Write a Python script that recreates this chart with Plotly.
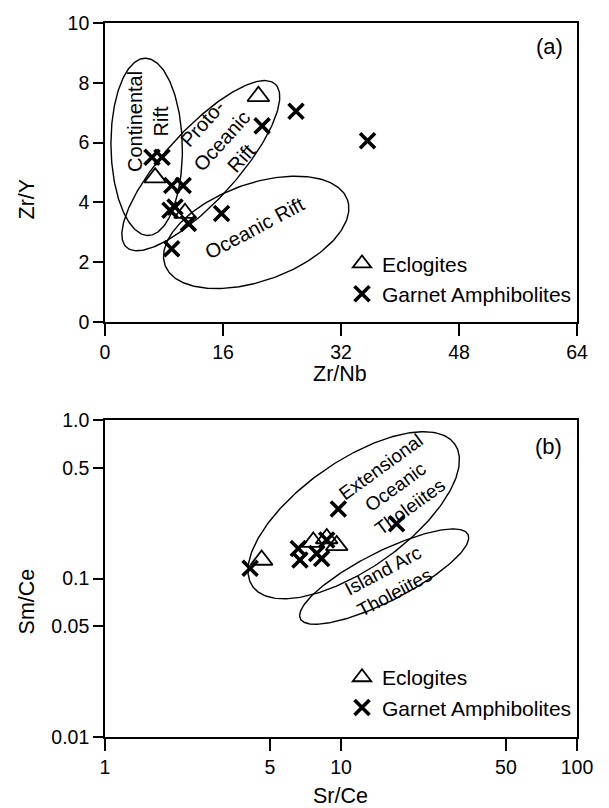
import numpy as np
import plotly.graph_objects as go

# ---------------- data: panel (a) Zr/Nb vs Zr/Y ----------------
a_ecl_zrnb = [6.8, 10.85, 20.8]
a_ecl_zry = [4.83, 3.64, 7.55]
a_amph_zrnb = [6.37, 7.73, 9.04, 10.6, 8.81, 9.49, 11.3, 15.8, 9.04, 21.3, 25.9, 35.6]
a_amph_zry = [5.51, 5.51, 4.57, 4.57, 3.74, 3.85, 3.30, 3.63, 2.45, 6.56, 7.05, 6.06]

# ---------------- data: panel (b) Sr/Ce vs Sm/Ce ----------------
b_ecl_srce = [4.61, 7.63, 8.70, 9.59]
b_ecl_smce = [0.131, 0.170, 0.179, 0.162]
b_amph_srce = [4.12, 6.59, 6.70, 7.89, 8.28, 8.70, 9.74, 17.2]
b_amph_smce = [0.116, 0.155, 0.131, 0.144, 0.134, 0.175, 0.275, 0.222]

# tick labels
a_xticks = [0, 16, 32, 48, 64]
a_yticks = [0, 2, 4, 6, 8, 10]
b_xticks = [1, 5, 10, 50, 100]
b_xticktext = ["1", "5", "10", "50", "100"]
b_yticks = [0.01, 0.05, 0.1, 0.5, 1.0]
b_yticktext = ["0.01", "0.05", "0.1", "0.5", "1.0"]

# discrimination fields: name, center (data), semi-axes (px), screen angle (deg)
a_fields = [
    ("Continental Rift", 5.65, 5.86, 89.5, 35.7, 91),
    ("Proto-Oceanic Rift", 12.99, 5.23, 111, 36, 48),
    ("Oceanic Rift", 20.5, 3.0, 97, 49, 20),
]
b_fields = [
    ("Extensional Oceanic Tholeiites", 11.32, 0.251, 124, 54, 35.5),
    ("Island Arc Tholeiites", 15.24, 0.1029, 94, 25, 27),
]

FONT = "Liberation Sans, Arial, Helvetica, sans-serif"
W, H = 609, 808
ML, MR, MT, MB = 105, 32, 16, 71
PW = W - ML - MR
PH = H - MT - MB
A_DOM = [0.5811, 1.0]
B_DOM = [0.0, 0.4438]

# pixel scale factors
a_sx = PW / 64.0
a_sy = PH * (A_DOM[1] - A_DOM[0]) / 10.0
b_sx = PW / 2.0
b_sy = PH * (B_DOM[1] - B_DOM[0]) / 2.0


def ellipse(cx, cy, a, b, ang, sx, sy, log=False):
    t = np.linspace(0, 2 * np.pi, 241)
    th = np.radians(ang)
    dx = a * np.cos(t) * np.cos(th) - b * np.sin(t) * np.sin(th)
    dy = a * np.cos(t) * np.sin(th) + b * np.sin(t) * np.cos(th)
    if log:
        return 10 ** (np.log10(cx) + dx / sx), 10 ** (np.log10(cy) + dy / sy)
    return cx + dx / sx, cy + dy / sy


fig = go.Figure()

for name, cx, cy, a, b, ang in a_fields:
    ex, ey = ellipse(cx, cy, a, b, ang, a_sx, a_sy)
    fig.add_trace(go.Scatter(x=ex, y=ey, mode="lines", line=dict(color="black", width=1.4),
                             showlegend=False, hoverinfo="skip", xaxis="x", yaxis="y"))
for name, cx, cy, a, b, ang in b_fields:
    ex, ey = ellipse(cx, cy, a, b, ang, b_sx, b_sy, log=True)
    fig.add_trace(go.Scatter(x=ex, y=ey, mode="lines", line=dict(color="black", width=1.4),
                             showlegend=False, hoverinfo="skip", xaxis="x2", yaxis="y2"))

tri = dict(symbol="triangle-up-open", size=19, color="black", line=dict(width=1.8, color="black"))
crs = dict(symbol="x-thin", size=15, color="black", line=dict(width=3.6, color="black"))

fig.add_trace(go.Scatter(x=a_ecl_zrnb, y=a_ecl_zry, mode="markers", marker=tri, name="Eclogites",
                         xaxis="x", yaxis="y", legend="legend"))
fig.add_trace(go.Scatter(x=a_amph_zrnb, y=a_amph_zry, mode="markers", marker=crs,
                         name="Garnet Amphibolites", xaxis="x", yaxis="y", legend="legend"))
fig.add_trace(go.Scatter(x=b_ecl_srce, y=b_ecl_smce, mode="markers", marker=tri, name="Eclogites",
                         xaxis="x2", yaxis="y2", legend="legend2"))
fig.add_trace(go.Scatter(x=b_amph_srce, y=b_amph_smce, mode="markers", marker=crs,
                         name="Garnet Amphibolites", xaxis="x2", yaxis="y2", legend="legend2"))

ax_common = dict(showline=True, linecolor="black", linewidth=1.6, mirror=True, ticks="outside",
                 tickcolor="black", tickwidth=2, showgrid=False, zeroline=False,
                 tickfont=dict(family=FONT, size=19.5, color="black"))

annotations = []


def label(txt, x, y, xref, yref, ang, size):
    annotations.append(dict(text=txt, x=x, y=y, xref=xref, yref=yref, showarrow=False,
                            xanchor="center", yanchor="middle", textangle=ang,
                            font=dict(family=FONT, size=size, color="black")))


# region labels panel (a)
a_labels = [
    ("Continental<br>Rift", 5.83, 6.69, -90),
    ("Proto-<br>Oceanic<br>Rift", 15.8, 6.06, -48),
    ("Oceanic Rift", 20.3, 3.15, -28),
]
for txt, x, y, ang in a_labels:
    label(txt, x, y, "x", "y", ang, 20)
b_labels = [
    ("Extensional<br>Oceanic<br>Tholeiites", 16.9, 0.381, -36),
    ("Island Arc<br>Tholeiites", 15.86, 0.0958, -28),
]
for txt, x, y, ang in b_labels:
    label(txt, np.log10(x), np.log10(y), "x2", "y2", ang, 19)
label("(a)", 60.3, 9.2, "x", "y", 0, 22)
label("(b)", np.log10(75.4), np.log10(0.678), "x2", "y2", 0, 22)
# axis titles
titles = [
    ("Zr/Nb", 0.498, 0.509, 0),
    ("Sr/Ce", 0.498, -0.0832, 0),
    ("Zr/Y", -0.165, 0.753, -90),
    ("Sm/Ce", -0.165, 0.19, -90),
]
for txt, x, y, ang in titles:
    label(txt, x, y, "paper", "paper", ang, 21.5)

leg_common = dict(xanchor="right", x=1.0, yanchor="bottom", bgcolor="rgba(0,0,0,0)",
                  font=dict(family=FONT, size=21, color="black"), itemsizing="trace",
                  tracegroupgap=0)

fig.update_layout(
    width=W, height=H,
    margin=dict(l=ML, r=MR, t=MT, b=MB),
    paper_bgcolor="white", plot_bgcolor="white",
    font=dict(family=FONT, color="black"),
    xaxis=dict(domain=[0, 1], range=[0, 64], tickvals=a_xticks, ticklen=12, anchor="y", **ax_common),
    yaxis=dict(domain=A_DOM, range=[0, 10], tickvals=a_yticks, ticklen=10, anchor="x", **ax_common),
    xaxis2=dict(domain=[0, 1], type="log", range=[0, 2], tickvals=b_xticks, ticktext=b_xticktext,
                ticklen=12, anchor="y2", **ax_common),
    yaxis2=dict(domain=B_DOM, type="log", range=[-2, 0], tickvals=b_yticks, ticktext=b_yticktext,
                ticklen=10, anchor="x2", **ax_common),
    legend=dict(y=0.592, **leg_common),
    legend2=dict(y=0.0125, **leg_common),
    annotations=annotations,
    showlegend=True,
)

fig.write_html("out.html")
